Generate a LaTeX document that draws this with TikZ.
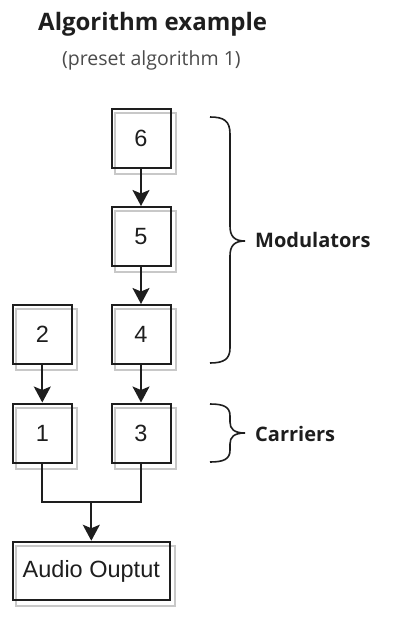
\documentclass[tikz,border=0pt]{standalone}
\usepackage{fontspec}
\setmainfont{Liberation Sans}
\newfontfamily\headfont{Open Sans}
\usetikzlibrary{arrows.meta,backgrounds}
\definecolor{ink}{HTML}{1E1E1E}
\definecolor{shadowgray}{HTML}{C8C8C8}
\begin{document}
\begin{tikzpicture}[x=1pt,y=-1pt,
  opbox/.style={draw=ink,line width=2pt,minimum width=59pt,minimum height=59pt,inner sep=0pt,font=\fontsize{23.5}{28}\selectfont,text=ink},
  ghost/.style={draw=shadowgray,line width=2pt},
  link/.style={draw=ink,line width=2pt},
  arr/.style={link,-{Stealth[length=16pt,width=17pt,inset=3.5pt]}},
  bracepath/.style={draw=ink,line width=1.6pt},
  grplabel/.style={font=\headfont\bfseries\fontsize{20}{24}\selectfont,text=ink,anchor=base west,inner sep=0pt}]
\useasboundingbox (0,0) rectangle (409,632);
% title
\node[anchor=base west,inner sep=0pt,text=ink,font=\headfont\bfseries\fontsize{24}{28}\selectfont] (title) at (38,30) {Algorithm example};
\node[anchor=base west,inner sep=0pt,text=ink!80,font=\headfont\fontsize{19.5}{23}\selectfont] (sub) at (62,65) {(preset algorithm 1)};
% operators
\node[opbox] (m6) at (141,138) {6};
\node[opbox] (m5) at (141,236.5) {5};
\node[opbox] (m4) at (141,334.5) {4};
\node[opbox] (m2) at (42.3,334.5) {2};
\node[opbox] (m1) at (42.3,433) {1};
\node[opbox] (m3) at (141,433) {3};
\node[opbox,minimum width=157pt,minimum height=58.5pt] (out) at (91.3,571) {Audio Ouptut};
\begin{scope}[on background layer]
\foreach \n in {m6,m5,m4,m2,m1,m3,out}{
  \draw[ghost] ([shift={(4,5)}]\n.north west) rectangle ([shift={(4,5)}]\n.south east);
}
\end{scope}
% connectors
\draw[arr] (m6) -- (m5);
\draw[arr] (m5) -- (m4);
\draw[arr] (m4) -- (m3);
\draw[arr] (m2) -- (m1);
\coordinate (j) at (91.3,502);
\draw[link] (m1.south) |- (j) -| (m3.south);
\draw[arr] (j) -- (j |- out.north);
% braces
\draw[bracepath] (210,117) .. controls (224,117) and (230,121) .. (230,134) -- (230,226)
  .. controls (230,236) and (234,241) .. (245,241)
  .. controls (234,241) and (230,246) .. (230,256) -- (230,348)
  .. controls (230,359) and (224,363) .. (210,363);
\draw[bracepath] (210,404) .. controls (224,404) and (230,407) .. (230,416) -- (230,422)
  .. controls (230,429) and (234,433) .. (245,433)
  .. controls (234,433) and (230,437) .. (230,444) -- (230,450)
  .. controls (230,459) and (224,462) .. (210,462);
\node[grplabel] (mod) at (255,247) {Modulators};
\node[grplabel] (car) at (255,441.7) {Carriers};
\end{tikzpicture}
\end{document}
